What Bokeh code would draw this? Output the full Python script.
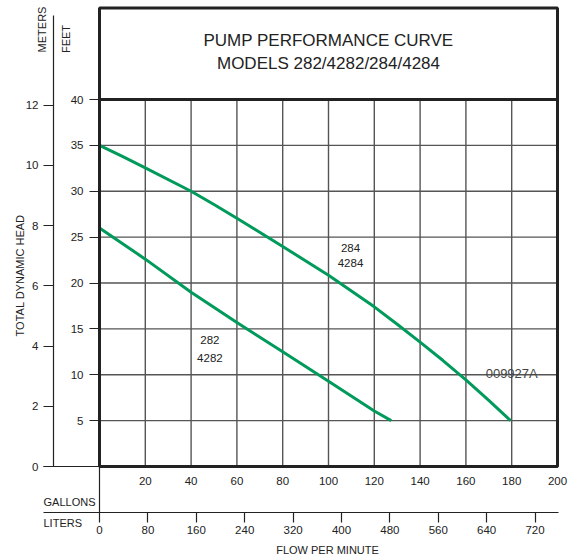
from math import pi
from bokeh.plotting import figure
from bokeh.models import (Range1d, LinearAxis, FixedTicker, Label, BoxAnnotation,
                          ColumnDataSource)
from bokeh.core.properties import value
from bokeh.embed import file_html
from bokeh.resources import INLINE

# ---------------- data ----------------
flow_gpm_284 = [0, 10, 20, 40, 50, 60, 80, 100, 120, 130, 140, 150, 160, 170, 179.5]
head_ft_284 = [35.0, 33.8, 32.55, 30.0, 28.55, 27.06, 23.98, 20.85, 17.4, 15.5, 13.55,
               11.55, 9.45, 7.2, 5.0]

flow_gpm_282 = [0, 20, 40, 60, 80, 100, 120, 127.4]
head_ft_282 = [26.0, 22.6, 19.0, 15.7, 12.5, 9.3, 6.05, 5.0]

gallon_ticks = [20, 40, 60, 80, 100, 120, 140, 160, 180, 200]
liter_ticks = [0, 80, 160, 240, 320, 400, 480, 560, 640, 720]
feet_ticks = [5, 10, 15, 20, 25, 30, 35, 40]
meter_ticks = [0, 2, 4, 6, 8, 10, 12]

model_labels = ["284", "4284", "282", "4282"]
model_label_x = [109.6, 109.6, 48.2, 48.2]
model_label_y = [23.85, 22.15, 13.8, 11.85]

title_lines = ["PUMP PERFORMANCE CURVE", "MODELS 282/4282/284/4284"]
drawing_code = "009927A"

GAL_MAX = 200
FT_MAX = 40
L_PER_GAL = 3.78541
M_PER_FT = 0.3048

# ---------------- layout helpers ----------------
FONT = "Liberation Sans"
INK = "#222222"
GREEN = "#009a5b"
W, H = 576, 558
PX_PER_GAL = 458 / GAL_MAX
PX_PER_FT = 367 / FT_MAX
X0, Y0 = 99, 466          # canvas pixel of (0 gal, 0 ft)


def gx(sx):
    return (sx - X0) / PX_PER_GAL


def fy(sy):
    return (Y0 - sy) / PX_PER_FT


X_START, X_END = gx(0), gx(W)
Y_START, Y_END = fy(H), fy(0)

p = figure(width=W, height=H, x_range=Range1d(X_START, X_END), y_range=Range1d(Y_START, Y_END),
           output_backend="svg", toolbar_location=None,
           x_axis_location=None, y_axis_location=None, min_border=0)
p.outline_line_color = None
for g in p.grid:
    g.visible = False
p.extra_y_ranges = {"m": Range1d(Y_START * M_PER_FT, Y_END * M_PER_FT)}
p.extra_x_ranges = {"L": Range1d(X_START * L_PER_GAL, X_END * L_PER_GAL)}

# grid lines (only inside the chart area)
grid_x = gallon_ticks[:-1]
grid_y = feet_ticks[:-1]
p.segment(x0=grid_x, y0=[0] * len(grid_x), x1=grid_x, y1=[FT_MAX] * len(grid_x),
          line_color="#555555", line_width=1.4)
p.segment(x0=[0] * len(grid_y), y0=grid_y, x1=[GAL_MAX] * len(grid_y), y1=grid_y,
          line_color="#555555", line_width=1.4)


def style_axis(ax, size="11.5px"):
    ax.major_label_text_font = FONT
    ax.major_label_text_font_size = size
    ax.major_label_text_color = INK
    ax.minor_tick_in = 0
    ax.minor_tick_out = 0
    ax.major_tick_in = 0
    ax.major_tick_line_color = INK
    ax.major_tick_line_width = 1.2
    ax.axis_line_color = INK
    ax.axis_line_width = 1.2
    ax.axis_label_text_font = FONT
    ax.axis_label_text_font_style = "normal"
    ax.axis_label_text_color = INK


# feet axis
ya = LinearAxis(fixed_location=0, bounds=(fy(512), FT_MAX), ticker=FixedTicker(ticks=feet_ticks))
style_axis(ya)
ya.major_tick_out = 10
ya.major_label_standoff = 6
p.add_layout(ya, "left")

# meters axis
ma = LinearAxis(y_range_name="m", fixed_location=gx(53), bounds=(0, fy(15) * M_PER_FT),
                ticker=FixedTicker(ticks=meter_ticks))
style_axis(ma)
ma.major_tick_out = 10
ma.major_label_standoff = 5
p.add_layout(ma, "left")

# gallons axis
xa = LinearAxis(fixed_location=0, bounds=(gx(43), GAL_MAX), ticker=FixedTicker(ticks=gallon_ticks))
style_axis(xa)
xa.major_tick_out = 0
xa.major_label_standoff = 10
p.add_layout(xa, "below")

# liters axis
la = LinearAxis(x_range_name="L", fixed_location=fy(512),
                bounds=(gx(43) * L_PER_GAL, gx(558) * L_PER_GAL),
                ticker=FixedTicker(ticks=liter_ticks))
style_axis(la)
la.major_tick_out = 10
la.major_label_standoff = 3
p.add_layout(la, "below")

# chart box and title box
p.add_layout(BoxAnnotation(left=0, right=GAL_MAX, bottom=0, top=FT_MAX, fill_color=None,
                           line_color=INK, line_width=3, line_alpha=1))
p.add_layout(BoxAnnotation(left=0, right=GAL_MAX, bottom=FT_MAX, top=fy(7.5), fill_color=None,
                           line_color=INK, line_width=3, line_alpha=1))
for line, sy in zip(title_lines, [40, 63]):
    p.add_layout(Label(x=GAL_MAX / 2, y=fy(sy), text=line, text_align="center",
                       text_baseline="middle", text_font=FONT, text_font_size="17px",
                       text_color=INK))

# curves
p.line(flow_gpm_284, head_ft_284, line_color=GREEN, line_width=3, line_join="round")
p.line(flow_gpm_282, head_ft_282, line_color=GREEN, line_width=3, line_join="round")

src = ColumnDataSource(dict(x=model_label_x, y=model_label_y, t=model_labels))
p.text(x="x", y="y", text="t", source=src, text_align="center", text_baseline="middle",
       text_font=value(FONT), text_font_size=value("11.5px"), text_color=INK)

p.add_layout(Label(x=180, y=fy(373), text=drawing_code, text_align="center",
                   text_baseline="middle", text_font=FONT, text_font_size="13px",
                   text_color="#444444"))

# side texts
side = [("METERS", 41.5, 29, pi / 2, "center"),
        ("FEET", 65.5, 38.5, pi / 2, "center"),
        ("TOTAL DYNAMIC HEAD", 19, 275, pi / 2, "center"),
        ("GALLONS", 43, 501, 0, "left"),
        ("LITERS", 43, 522, 0, "left"),
        ("FLOW PER MINUTE", 327, 549, 0, "center")]
for txt, sx, sy, ang, al in side:
    p.add_layout(Label(x=gx(sx), y=fy(sy), text=txt, angle=ang, text_align=al,
                       text_baseline="middle", text_font=FONT, text_font_size="11px",
                       text_color=INK))

open("out.html", "w").write(file_html(p, INLINE))
